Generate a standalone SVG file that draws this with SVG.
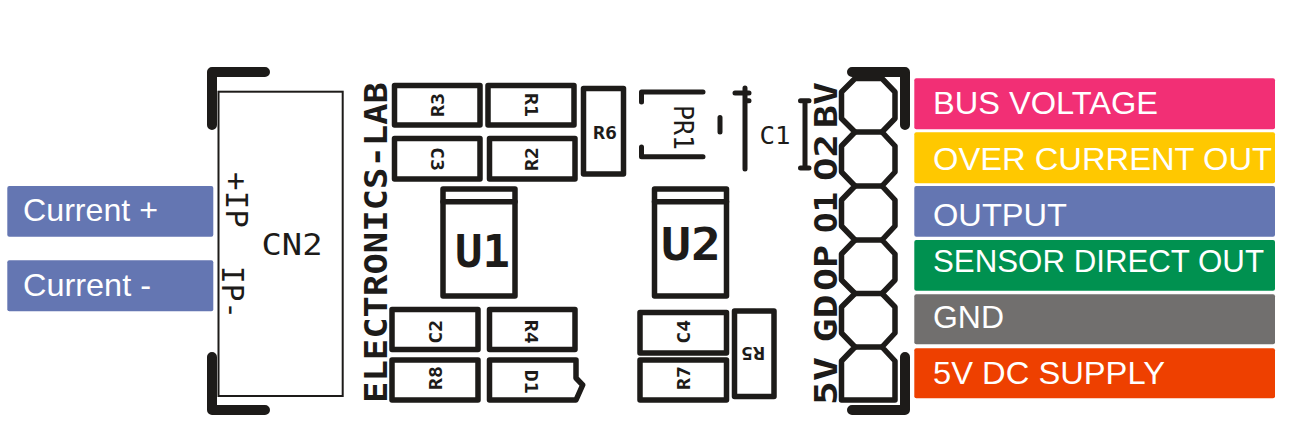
<svg xmlns="http://www.w3.org/2000/svg" width="1299" height="428" viewBox="0 0 1299 428">
<style>
.o{fill:none;stroke:#1d1b19;stroke-width:5.5;stroke-linejoin:round;stroke-linecap:round}
.b{fill:none;stroke:#1d1b19;stroke-width:10;stroke-linejoin:round;stroke-linecap:round}
.m{fill:none;stroke:#1d1b19;stroke-width:5;stroke-linejoin:round;stroke-linecap:round}
.s{font:bold 18px "DejaVu Sans Mono",monospace;fill:#1d1b19;text-anchor:middle}
.r{font-family:"DejaVu Sans Mono",monospace;fill:#1d1b19}
.h{font:bold 32px "DejaVu Sans Mono",monospace;fill:#1d1b19}
.u{font:bold 45px "DejaVu Sans Mono",monospace;fill:#1d1b19}
.l{font:32px "Liberation Sans",Arial,sans-serif;fill:#fff}
</style>
<rect width="1299" height="428" fill="#fff"/>
<g id="current-plus"><rect x="7.3" y="186" width="206" height="50.7" rx="2" fill="#6476b2"/><text class="l" x="23" y="221" textLength="135" lengthAdjust="spacingAndGlyphs">Current +</text></g>
<g id="current-minus"><rect x="7.3" y="260.3" width="206" height="51" rx="2" fill="#6476b2"/><text class="l" x="23" y="296" textLength="128" lengthAdjust="spacingAndGlyphs">Current -</text></g>
<g id="cn2">
<rect x="218.5" y="91.7" width="124.2" height="304.3" fill="none" stroke="#1d1b19" stroke-width="2"/>
<path class="b" d="M265 72H212V125M212 357V410H265"/>
<text class="r" font-size="30" x="261.5" y="255" textLength="61" lengthAdjust="spacingAndGlyphs">CN2</text>
<text class="r" font-size="30" transform="translate(225.5 172) rotate(90)" textLength="56" lengthAdjust="spacingAndGlyphs">+IP</text>
<text class="r" font-size="30" transform="translate(222 266) rotate(90)" textLength="53" lengthAdjust="spacingAndGlyphs">IP-</text>
</g>
<g id="brand"><text class="h" transform="translate(386.7 403) rotate(-90)" textLength="321" lengthAdjust="spacingAndGlyphs">ELECTRONICS-LAB</text></g>
<g id="r3"><rect class="o" x="394.5" y="85.5" width="85.5" height="39.5"/><text class="s" transform="translate(437 105) rotate(-90)" y="6.5" textLength="24" lengthAdjust="spacingAndGlyphs">R3</text></g>
<g id="r1"><rect class="o" x="488" y="85.5" width="86" height="39.5"/><text class="s" transform="translate(531.7 105) rotate(90)" y="6.5" textLength="24" lengthAdjust="spacingAndGlyphs">R1</text></g>
<g id="c3"><rect class="o" x="394.5" y="138.5" width="85.5" height="40.5"/><text class="s" transform="translate(437 159) rotate(90)" y="6.5" textLength="24" lengthAdjust="spacingAndGlyphs">C3</text></g>
<g id="r2"><rect class="o" x="489.5" y="138.5" width="85.5" height="40.5"/><text class="s" transform="translate(531.7 159) rotate(-90)" y="6.5" textLength="24" lengthAdjust="spacingAndGlyphs">R2</text></g>
<g id="r6"><rect class="o" x="583.5" y="88.5" width="40" height="85.5"/><text class="s" x="605" y="138.5" textLength="24" lengthAdjust="spacingAndGlyphs">R6</text></g>
<g id="u1"><rect class="o" x="443" y="189" width="72" height="107"/><path class="o" d="M443 201.7H515"/><text class="u" x="455" y="267" textLength="55" lengthAdjust="spacingAndGlyphs">U1</text></g>
<g id="u2"><rect class="o" x="654.5" y="189" width="72" height="107"/><path class="o" d="M654.5 201.7H726.5"/><text class="u" x="661" y="260" textLength="60" lengthAdjust="spacingAndGlyphs">U2</text></g>
<g id="c2"><rect class="o" x="392" y="309.5" width="86" height="40"/><text class="s" transform="translate(435 331.7) rotate(-90)" y="6.5" textLength="24" lengthAdjust="spacingAndGlyphs">C2</text></g>
<g id="r4"><rect class="o" x="489.5" y="309.5" width="85.5" height="40"/><text class="s" transform="translate(531.7 331.7) rotate(90)" y="6.5" textLength="24" lengthAdjust="spacingAndGlyphs">R4</text></g>
<g id="r8"><rect class="o" x="392" y="360" width="86" height="40"/><text class="s" transform="translate(435 378) rotate(-90)" y="6.5" textLength="24" lengthAdjust="spacingAndGlyphs">R8</text></g>
<g id="d1"><path class="o" d="M489.5 360H576V378L582.7 385L576 400H489.5Z"/><text class="s" transform="translate(531.7 381.7) rotate(90)" y="6.5" textLength="24" lengthAdjust="spacingAndGlyphs">D1</text></g>
<g id="c4"><rect class="o" x="640" y="312.5" width="86.5" height="40.5"/><text class="s" transform="translate(683 331.7) rotate(-90)" y="6.5" textLength="24" lengthAdjust="spacingAndGlyphs">C4</text></g>
<g id="r7"><rect class="o" x="640" y="360" width="86.5" height="40"/><text class="s" transform="translate(683 378) rotate(-90)" y="6.5" textLength="24" lengthAdjust="spacingAndGlyphs">R7</text></g>
<g id="r5"><rect class="o" x="734.5" y="311" width="39.5" height="85.5"/><text class="s" transform="translate(753 353) rotate(180)" y="6.5" textLength="24" lengthAdjust="spacingAndGlyphs">R5</text></g>
<g id="pr1">
<path class="m" d="M641.5 102V92H703M641.5 147V156.7H703M720 117.5V132"/>
<text class="r" font-size="26" transform="translate(674 105) rotate(90)" textLength="45" lengthAdjust="spacingAndGlyphs">PR1</text>
</g>
<g id="c1">
<path class="m" d="M745 88V169M735 93H749M745 100.7H749M800.5 100.7H809M805 100.7V168M800.5 168H809"/>
<text class="r" font-size="24" x="759.5" y="143.5" textLength="31" lengthAdjust="spacingAndGlyphs">C1</text>
</g>
<g id="header">
<path class="o" d="M855 78.5H882L895 92V118.5L882 132L895 146V172L882 186L895 200V226L882 240L895 254V280L882 293.5L895 307V333L882 347L895 361V400H841.5V361L855 347L841.5 333V307L855 293.5L841.5 280V254L855 240L841.5 226V200L855 186L841.5 172V146L855 132L841.5 118.5V92Z"/>
<path class="o" d="M855 132H882M855 186H882M855 240H882M855 293.5H882M855 347H882"/>
<path class="b" d="M852 72H905V125M905 357V410H852"/>
<text class="h" transform="translate(836.7 405) rotate(-90)" textLength="48" lengthAdjust="spacingAndGlyphs">5V</text>
<text class="h" transform="translate(836.7 342.5) rotate(-90)" textLength="48" lengthAdjust="spacingAndGlyphs">GD</text>
<text class="h" transform="translate(836.7 291) rotate(-90)" textLength="46" lengthAdjust="spacingAndGlyphs">OP</text>
<text class="h" transform="translate(836.7 233) rotate(-90)" textLength="41" lengthAdjust="spacingAndGlyphs">O1</text>
<text class="h" transform="translate(836.7 181) rotate(-90)" textLength="47" lengthAdjust="spacingAndGlyphs">O2</text>
<text class="h" transform="translate(836.7 128) rotate(-90)" textLength="46" lengthAdjust="spacingAndGlyphs">BV</text>
</g>
<g id="bus-voltage"><rect x="914.3" y="78.3" width="360.7" height="51" rx="2" fill="#f22f75"/><text class="l" x="933" y="114.3" textLength="225" lengthAdjust="spacingAndGlyphs">BUS VOLTAGE</text></g>
<g id="over-current-out"><rect x="914.3" y="132.3" width="360.7" height="51" rx="2" fill="#ffc800"/><text class="l" x="933" y="170" textLength="339" lengthAdjust="spacingAndGlyphs">OVER CURRENT OUT</text></g>
<g id="output"><rect x="914.3" y="186" width="360.7" height="50.7" rx="2" fill="#6476b2"/><text class="l" x="933" y="226" textLength="134" lengthAdjust="spacingAndGlyphs">OUTPUT</text></g>
<g id="sensor-direct-out"><rect x="914.3" y="240" width="360.7" height="50.7" rx="2" fill="#009150"/><text class="l" x="933" y="271.7" textLength="331" lengthAdjust="spacingAndGlyphs">SENSOR DIRECT OUT</text></g>
<g id="gnd"><rect x="914.3" y="294.3" width="360.7" height="50" rx="2" fill="#716f6e"/><text class="l" x="933" y="328.3" textLength="71" lengthAdjust="spacingAndGlyphs">GND</text></g>
<g id="dc-supply"><rect x="914.3" y="348.3" width="360.7" height="50" rx="2" fill="#ee4000"/><text class="l" x="933" y="384" textLength="232" lengthAdjust="spacingAndGlyphs">5V DC SUPPLY</text></g>
</svg>
